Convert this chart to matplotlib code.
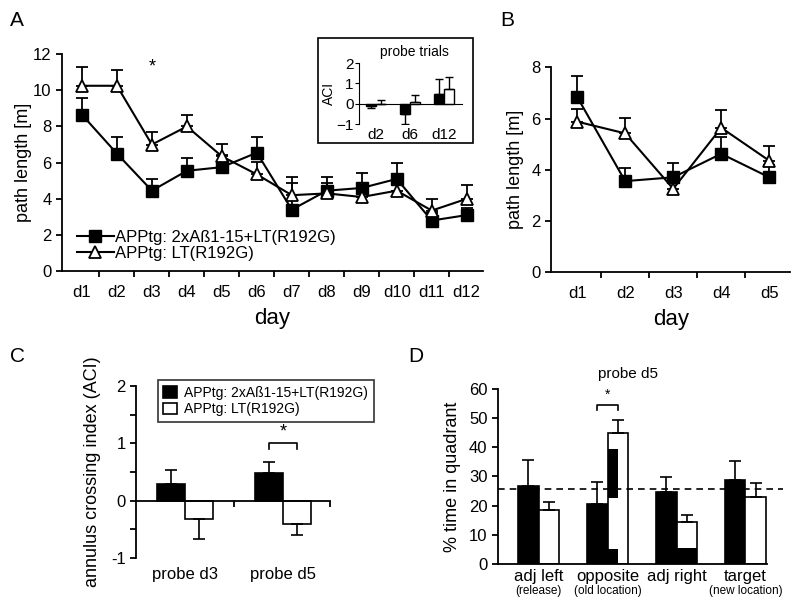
import numpy as np
import matplotlib
matplotlib.use("Agg")
import matplotlib.pyplot as plt
from matplotlib.patches import Rectangle

plt.rcParams["font.family"] = ["Liberation Sans", "DejaVu Sans"]

# ---- data ----
days_a = ["d1", "d2", "d3", "d4", "d5", "d6", "d7", "d8", "d9", "d10", "d11", "d12"]
vacc_a = [8.65, 6.5, 4.45, 5.55, 5.75, 6.55, 3.4, 4.45, 4.6, 5.1, 2.8, 3.1]
vacc_a_err = [0.9, 0.9, 0.65, 0.7, 0.7, 0.85, 1.45, 0.75, 0.8, 0.9, 0.4, 0.4]
ctrl_a = [10.25, 10.25, 7.0, 8.0, 6.35, 5.35, 4.2, 4.3, 4.1, 4.45, 3.35, 4.0]
ctrl_a_err = [1.05, 0.85, 0.7, 0.65, 0.7, 0.7, 1.0, 0.6, 0.5, 0.5, 0.65, 0.75]

inset_days = ["d2", "d6", "d12"]
inset_vacc = [-0.1, -0.5, 0.5]
inset_vacc_err = [0.1, 0.5, 0.7]
inset_ctrl = [0.0, 0.1, 0.75]
inset_ctrl_err = [0.2, 0.35, 0.55]

days_b = ["d1", "d2", "d3", "d4", "d5"]
vacc_b = [6.85, 3.55, 3.7, 4.62, 3.7]
vacc_b_err = [0.8, 0.52, 0.56, 0.67, 0.5]
ctrl_b = [5.88, 5.42, 3.25, 5.64, 4.35]
ctrl_b_err = [0.5, 0.6, 0.5, 0.7, 0.58]

probes_c = ["probe d3", "probe d5"]
vacc_c = [0.3, 0.48]
vacc_c_err = [0.23, 0.2]
ctrl_c = [-0.31, -0.4]
ctrl_c_err = [0.35, 0.19]

quadrants = ["adj left", "opposite", "adj right", "target"]
quad_sub = ["(release)", "(old location)", "", "(new location)"]
vacc_d = [26.6, 20.6, 24.7, 28.8]
vacc_d_err = [9.0, 7.4, 5.0, 6.3]
ctrl_d = [18.6, 44.7, 14.4, 22.9]
ctrl_d_err = [2.5, 4.7, 2.5, 4.8]
chance_level = 25.6
# dark blocks seen inside the white bars of the scan: (group, width fraction, bottom, top)
blot_group = [1, 1, 2]
blot_frac = [0.5, 0.5, 1.0]
blot_bottom = [22.7, 0.0, 0.0]
blot_top = [39.3, 5.3, 5.5]

label_a = "APPtg: 2xAß1-15+LT(R192G)"
label_b = "APPtg: LT(R192G)"

fig = plt.figure(figsize=(8, 6.08), dpi=100)

def style_axes(ax):
    ax.spines["top"].set_visible(False)
    ax.spines["right"].set_visible(False)
    ax.spines["left"].set_linewidth(1.3)
    ax.spines["bottom"].set_linewidth(1.3)
    ax.tick_params(width=1.3, length=4, labelsize=12)

def line_panel(ax, vacc, vacc_err, ctrl, ctrl_err, ms):
    x = np.arange(len(vacc))
    zero = np.zeros(len(vacc))
    ax.errorbar(x, ctrl, yerr=[zero, ctrl_err], fmt="none", ecolor="black",
                elinewidth=1.3, capsize=4, capthick=1.3, zorder=2)
    ax.errorbar(x, vacc, yerr=[zero, vacc_err], fmt="none", ecolor="black",
                elinewidth=1.3, capsize=4, capthick=1.3, zorder=2)
    l1, = ax.plot(x, vacc, "-s", color="black", ms=ms, lw=1.5, zorder=3)
    l2, = ax.plot(x, ctrl, "-^", color="black", mfc="white", mec="black",
                  mew=1.3, ms=ms, lw=1.5, zorder=3)
    return l1, l2

# ---- panel A ----
axA = fig.add_axes([0.0775, 0.554, 0.526, 0.357])
style_axes(axA)
l1, l2 = line_panel(axA, vacc_a, vacc_a_err, ctrl_a, ctrl_a_err, 9)
axA.set_xlim(-0.57, 11.46)
axA.set_ylim(0, 12)
axA.set_yticks(np.arange(0, 13, 2))
axA.set_xticks(np.arange(0.5, 11.5, 1))
axA.set_xticklabels([])
axA.set_xticks(np.arange(len(days_a)), days_a, minor=True)
axA.tick_params(axis="x", which="minor", length=0, pad=10, labelsize=12)
axA.set_xlabel("day", fontsize=16, labelpad=6)
axA.set_ylabel("path length [m]", fontsize=13, labelpad=1)
axA.text(2, 11.3, "*", ha="center", va="center", fontsize=13)
axA.legend([l1, l2], [label_a, label_b], loc="lower left", bbox_to_anchor=(0.02, 0.015),
           frameon=False, fontsize=12, handlelength=2.2, handletextpad=0.1,
           borderaxespad=0.0, labelspacing=0.1)

# inset
fig.patches.append(Rectangle((318 / 800, 1 - 143 / 608), 155 / 800, 105 / 608,
                             transform=fig.transFigure, fill=False, lw=1.2,
                             edgecolor="black"))
axI = fig.add_axes([0.449, 0.796, 0.129, 0.100])
axI.spines["top"].set_visible(False)
axI.spines["right"].set_visible(False)
axI.spines["bottom"].set_position(("data", 0))
xi = np.arange(len(inset_days))
w = 0.3
for xs, vals, errs, fc in [(xi - w / 2, inset_vacc, inset_vacc_err, "black"),
                           (xi + w / 2, inset_ctrl, inset_ctrl_err, "white")]:
    errs_lo = [e if v < 0 else 0 for v, e in zip(vals, errs)]
    errs_hi = [e if v >= 0 else 0 for v, e in zip(vals, errs)]
    axI.bar(xs, vals, w, color=fc, edgecolor="black", lw=1)
    axI.errorbar(xs, vals, yerr=[errs_lo, errs_hi], fmt="none", ecolor="black",
                 elinewidth=1, capsize=3, capthick=1)
axI.set_xlim(-0.5, 2.55)
axI.set_ylim(-1, 2)
axI.set_yticks([-1, 0, 1, 2])
axI.set_xticks([])
axI.tick_params(axis="y", labelsize=11, length=3, pad=1)
for i, d in enumerate(inset_days):
    axI.text(i, -1.2, d, ha="center", va="top", fontsize=11)
axI.set_ylabel("ACI", fontsize=10, labelpad=0)
axI.text(0.54, 1.18, "probe trials", transform=axI.transAxes, ha="center",
         va="center", fontsize=10)

# ---- panel B ----
axB = fig.add_axes([0.689, 0.553, 0.299, 0.336])
style_axes(axB)
line_panel(axB, vacc_b, vacc_b_err, ctrl_b, ctrl_b_err, 8)
axB.set_xlim(-0.54, 4.44)
axB.set_ylim(0, 8)
axB.set_yticks([0, 2, 4, 6, 8])
axB.set_xticks(np.arange(0.5, 4.5, 1))
axB.set_xticklabels([])
axB.set_xticks(np.arange(len(days_b)), days_b, minor=True)
axB.tick_params(axis="x", which="minor", length=0, pad=10, labelsize=12)
axB.set_xlabel("day", fontsize=16, labelpad=6)
axB.set_ylabel("path length [m]", fontsize=13, labelpad=5)

# ---- panel C ----
axC = fig.add_axes([0.17, 0.082, 0.2425, 0.283])
style_axes(axC)
axC.spines["bottom"].set_position(("data", 0))
xc = np.arange(len(probes_c))
w = 0.29
axC.bar(xc - w / 2, vacc_c, w, color="black", edgecolor="black", lw=1.2, label=label_a)
axC.bar(xc + w / 2, ctrl_c, w, color="white", edgecolor="black", lw=1.2, label=label_b)
axC.errorbar(xc - w / 2, vacc_c, yerr=[np.zeros(2), vacc_c_err], fmt="none",
             ecolor="black", elinewidth=1.2, capsize=4, capthick=1.2)
axC.errorbar(xc + w / 2, ctrl_c, yerr=[ctrl_c_err, np.zeros(2)], fmt="none",
             ecolor="black", elinewidth=1.2, capsize=4, capthick=1.2)
axC.set_xlim(-0.5, 1.48)
axC.set_ylim(-1, 2)
axC.set_yticks([-1, -0.5, 0, 0.5, 1, 1.5, 2])
axC.set_yticklabels(["-1", "", "0", "", "1", "", "2"])
axC.set_xticks([0.5, 1.48])
axC.set_xticklabels([])
for i, p in enumerate(probes_c):
    axC.text(i, -0.05, p, transform=axC.get_xaxis_transform(), ha="center",
             va="top", fontsize=12)
axC.set_ylabel("annulus crossing index (ACI)", fontsize=13, labelpad=7)
axC.plot([1 - w / 2, 1 - w / 2, 1 + w / 2, 1 + w / 2], [0.9, 1.0, 1.0, 0.9],
         color="black", lw=1.2)
axC.text(1, 1.06, "*", ha="center", va="bottom", fontsize=13)
legC = axC.legend(loc="upper left", bbox_to_anchor=(0.113, 1.035), fontsize=10,
                  frameon=True, fancybox=False, edgecolor="black",
                  handlelength=1.0, handleheight=0.9, handletextpad=0.5,
                  labelspacing=0.2, borderpad=0.4, borderaxespad=0.0)
legC.get_frame().set_linewidth(1.2)

# ---- panel D ----
axD = fig.add_axes([0.6225, 0.072, 0.336, 0.289])
style_axes(axD)
xd = np.arange(len(quadrants))
w = 0.3
axD.bar(xd - w / 2, vacc_d, w, color="black", edgecolor="black", lw=1.2)
axD.bar(xd + w / 2, ctrl_d, w, color="white", edgecolor="black", lw=1.2)
for g, f, b, t in zip(blot_group, blot_frac, blot_bottom, blot_top):
    axD.bar(g, t - b, w * f, bottom=b, align="edge", color="black", lw=0)
axD.errorbar(xd - w / 2, vacc_d, yerr=[np.zeros(4), vacc_d_err], fmt="none",
             ecolor="black", elinewidth=1.2, capsize=4, capthick=1.2)
axD.errorbar(xd + w / 2, ctrl_d, yerr=[np.zeros(4), ctrl_d_err], fmt="none",
             ecolor="black", elinewidth=1.2, capsize=4, capthick=1.2)
axD.axhline(chance_level, xmin=0, xmax=1.06, color="black", ls=(0, (4, 3)),
            lw=1.2, clip_on=False)
axD.set_xlim(-0.59, 3.31)
axD.set_ylim(0, 60)
axD.set_yticks(np.arange(0, 61, 10))
axD.set_xticks([])
for i, (q, s) in enumerate(zip(quadrants, quad_sub)):
    axD.text(i, -0.03, q, transform=axD.get_xaxis_transform(), ha="center",
             va="top", fontsize=12)
    if s:
        axD.text(i, -0.12, s, transform=axD.get_xaxis_transform(), ha="center",
                 va="top", fontsize=8.5)
axD.set_ylabel("% time in quadrant", fontsize=13, labelpad=6)
axD.text(1.3, 1.08, "probe d5", transform=axD.get_xaxis_transform(), ha="center",
         va="center", fontsize=11)
axD.plot([1 - w / 2, 1 - w / 2, 1 + w / 2, 1 + w / 2], [52.5, 54.4, 54.4, 52.5],
         color="black", lw=1.2)
axD.text(1, 55.5, "*", ha="center", va="bottom", fontsize=10)

# panel letters
for letter, (px, py) in {"A": (10, 20), "B": (500, 20), "C": (10, 357), "D": (408, 357)}.items():
    fig.text(px / 800, 1 - py / 608, letter, fontsize=15, ha="left", va="center")

fig.savefig("out.png", dpi=100)
